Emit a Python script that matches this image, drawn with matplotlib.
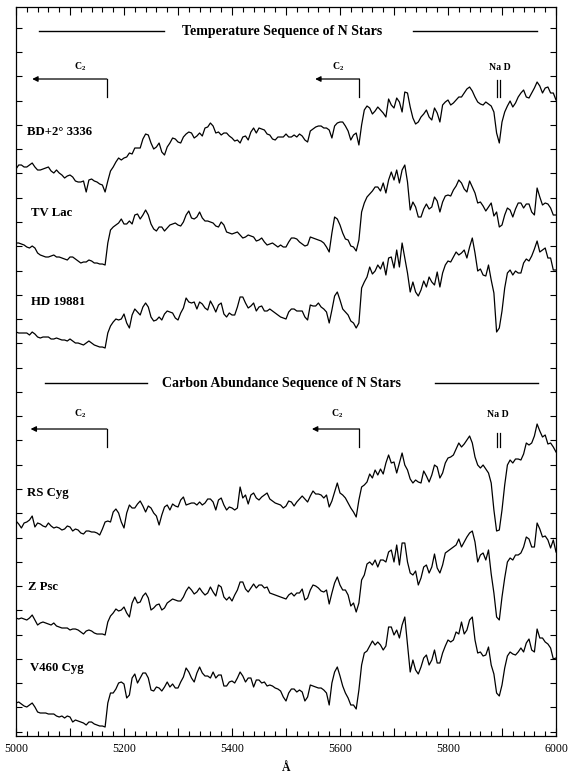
# === IMPORTS ===
import matplotlib.pyplot as plt
import numpy as np


# === FONTS ===
plt.rcParams['font.family'] = ['Liberation Serif', 'DejaVu Serif']
plt.rcParams['mathtext.fontset'] = 'custom'
plt.rcParams['mathtext.rm'] = 'Liberation Serif'
plt.rcParams['mathtext.bf'] = 'Liberation Serif:bold'


# === DATA (flux in arbitrary units, each spectrum already offset) ===
wavelength = np.arange(5000, 6001, 5)

bd_3336 = [
    567, 571, 571, 569, 569, 571, 573, 569, 566, 566, 567, 568, 569, 565, 563, 566, 563, 561, 558, 560,
    561, 559, 555, 554, 554, 555, 544, 556, 557, 555, 554, 552, 551, 544, 555, 565, 569, 574, 578, 576,
    578, 579, 583, 582, 588, 588, 588, 597, 602, 601, 593, 587, 589, 593, 584, 581, 589, 593, 598, 597,
    594, 593, 599, 602, 604, 603, 598, 600, 603, 600, 608, 609, 613, 610, 603, 604, 601, 603, 603, 600,
    598, 595, 596, 593, 599, 600, 596, 604, 608, 603, 608, 607, 606, 602, 601, 597, 596, 599, 599, 599,
    602, 599, 599, 601, 599, 602, 600, 596, 594, 605, 607, 609, 610, 610, 608, 608, 606, 598, 610, 613,
    614, 614, 610, 605, 596, 601, 603, 591, 611, 626, 630, 628, 622, 625, 629, 626, 623, 619, 637, 631,
    628, 638, 634, 624, 644, 643, 629, 618, 612, 614, 619, 622, 626, 619, 616, 628, 623, 614, 631, 634,
    636, 631, 633, 636, 639, 639, 643, 647, 649, 645, 639, 634, 632, 631, 634, 632, 630, 624, 603, 593,
    614, 624, 630, 635, 629, 633, 639, 643, 646, 639, 638, 643, 648, 654, 650, 643, 648, 649, 643, 643,
    636,
]

tv_lac = [
    493, 493, 492, 491, 489, 488, 490, 488, 483, 481, 480, 479, 479, 480, 481, 479, 479, 478, 477, 476,
    479, 479, 477, 475, 473, 474, 474, 476, 475, 473, 473, 472, 472, 471, 493, 506, 509, 511, 513, 517,
    512, 512, 515, 512, 521, 522, 517, 521, 526, 521, 512, 507, 505, 509, 509, 505, 508, 511, 512, 513,
    511, 510, 514, 521, 525, 518, 517, 519, 524, 518, 515, 515, 514, 513, 510, 509, 514, 511, 504, 503,
    502, 503, 504, 501, 498, 499, 501, 500, 499, 495, 496, 498, 494, 491, 492, 493, 491, 489, 491, 489,
    489, 494, 498, 498, 497, 494, 492, 490, 491, 499, 498, 497, 496, 495, 493, 489, 484, 503, 519, 517,
    511, 503, 497, 496, 490, 489, 485, 496, 524, 533, 539, 542, 545, 549, 549, 545, 553, 543, 556, 564,
    556, 566, 553, 566, 571, 554, 526, 534, 529, 519, 519, 527, 532, 527, 529, 539, 535, 524, 534, 540,
    541, 540, 546, 550, 556, 553, 547, 544, 555, 549, 543, 533, 534, 530, 525, 529, 533, 520, 524, 509,
    511, 521, 528, 526, 519, 527, 533, 533, 528, 532, 532, 524, 521, 548, 539, 531, 533, 532, 528, 521,
    521,
]

hd_19881 = [
    404, 403, 403, 403, 403, 401, 404, 402, 399, 398, 399, 399, 399, 397, 397, 398, 397, 396, 396, 395,
    397, 395, 393, 393, 392, 391, 393, 395, 393, 391, 390, 389, 389, 388, 403, 410, 414, 417, 416, 417,
    422, 413, 408, 421, 427, 424, 421, 429, 433, 429, 419, 415, 416, 419, 416, 422, 425, 424, 423, 418,
    416, 423, 428, 438, 434, 433, 434, 427, 434, 432, 428, 426, 435, 430, 424, 431, 433, 422, 419, 423,
    421, 421, 429, 439, 439, 433, 428, 430, 433, 425, 429, 430, 425, 425, 427, 425, 423, 421, 419, 418,
    417, 424, 427, 427, 425, 425, 425, 419, 416, 431, 430, 430, 433, 429, 427, 424, 413, 426, 440, 444,
    436, 427, 424, 421, 415, 413, 408, 413, 448, 454, 459, 469, 462, 465, 471, 467, 474, 461, 478, 479,
    468, 486, 469, 493, 478, 463, 444, 454, 444, 440, 446, 455, 449, 459, 454, 451, 464, 449, 463, 471,
    475, 474, 479, 484, 481, 483, 486, 478, 489, 498, 483, 465, 467, 461, 460, 471, 456, 443, 404, 408,
    425, 448, 463, 466, 461, 465, 463, 463, 473, 477, 475, 480, 487, 495, 484, 486, 488, 478, 478, 466,
    466,
]

rs_cyg = [
    215, 212, 208, 213, 214, 216, 220, 209, 213, 212, 210, 209, 213, 210, 208, 209, 208, 206, 207, 210,
    209, 205, 207, 206, 203, 202, 205, 205, 204, 204, 203, 201, 207, 214, 215, 214, 224, 227, 223, 214,
    208, 223, 231, 228, 228, 232, 235, 230, 224, 230, 228, 223, 220, 211, 221, 229, 231, 226, 232, 230,
    229, 236, 239, 231, 232, 233, 233, 231, 234, 231, 233, 237, 237, 234, 226, 236, 238, 231, 226, 229,
    228, 226, 228, 249, 238, 241, 232, 241, 243, 238, 236, 239, 241, 243, 237, 235, 233, 232, 231, 228,
    230, 235, 234, 230, 234, 237, 240, 237, 234, 240, 245, 242, 242, 241, 238, 241, 229, 235, 244, 253,
    243, 241, 238, 233, 228, 224, 219, 236, 249, 251, 254, 262, 258, 266, 261, 267, 262, 273, 281, 273,
    274, 263, 273, 283, 271, 266, 257, 253, 256, 254, 253, 265, 260, 254, 261, 271, 269, 258, 263, 273,
    278, 279, 281, 287, 293, 289, 292, 296, 300, 293, 279, 271, 268, 271, 267, 263, 253, 226, 205, 206,
    226, 251, 271, 276, 273, 277, 277, 276, 282, 293, 291, 293, 300, 312, 305, 299, 301, 292, 293, 289,
    284,
]

z_psc = [
    118, 117, 118, 117, 116, 118, 121, 116, 111, 113, 114, 113, 112, 111, 113, 110, 109, 108, 108, 108,
    106, 107, 107, 106, 104, 102, 105, 106, 105, 103, 102, 102, 102, 101, 114, 120, 123, 127, 125, 126,
    129, 123, 119, 133, 139, 133, 134, 140, 143, 138, 126, 128, 131, 132, 126, 128, 133, 135, 137, 136,
    135, 135, 139, 145, 149, 146, 142, 144, 148, 144, 141, 143, 149, 144, 140, 151, 149, 139, 136, 139,
    135, 141, 146, 154, 154, 147, 144, 148, 152, 148, 151, 151, 148, 149, 143, 142, 141, 140, 139, 138,
    137, 141, 143, 140, 143, 143, 147, 136, 138, 146, 151, 150, 148, 145, 144, 146, 132, 143, 153, 159,
    151, 146, 146, 141, 130, 133, 124, 133, 156, 161, 172, 174, 171, 176, 169, 176, 176, 174, 184, 186,
    174, 191, 171, 193, 193, 174, 163, 161, 165, 151, 158, 169, 171, 163, 169, 182, 168, 163, 171, 183,
    185, 187, 189, 191, 197, 189, 194, 199, 203, 205, 194, 174, 181, 183, 176, 186, 162, 143, 119, 116,
    139, 158, 174, 178, 176, 181, 181, 183, 189, 199, 197, 189, 189, 213, 207, 199, 200, 196, 188, 196,
    184,
]

v460_cyg = [
    33, 34, 32, 30, 29, 31, 33, 29, 24, 23, 23, 23, 22, 22, 22, 20, 19, 20, 18, 20,
    19, 14, 16, 15, 14, 13, 11, 14, 14, 12, 11, 10, 10, 9, 33, 43, 43, 47, 53, 54,
    52, 38, 41, 58, 62, 53, 58, 63, 63, 58, 46, 45, 49, 48, 45, 49, 54, 49, 52, 48,
    48, 54, 59, 68, 64, 58, 54, 63, 69, 63, 60, 60, 58, 64, 58, 61, 61, 50, 50, 54,
    55, 53, 58, 64, 60, 54, 58, 58, 49, 56, 56, 53, 54, 50, 51, 50, 48, 47, 45, 39,
    35, 43, 47, 47, 44, 46, 44, 35, 39, 51, 50, 49, 48, 48, 46, 43, 31, 53, 64, 69,
    60, 50, 43, 38, 31, 31, 27, 46, 71, 83, 85, 90, 95, 91, 94, 91, 86, 90, 109, 109,
    101, 106, 98, 111, 119, 91, 64, 76, 66, 62, 69, 78, 81, 71, 76, 86, 73, 73, 83, 90,
    96, 94, 96, 104, 102, 114, 102, 106, 116, 119, 96, 83, 84, 80, 81, 89, 71, 62, 43, 40,
    51, 68, 80, 84, 82, 81, 84, 88, 84, 93, 97, 86, 84, 107, 98, 98, 94, 92, 88, 77,
    78,
]

star_names = ["BD+2° 3336", "TV Lac", "HD 19881", "RS Cyg", "Z Psc", "V460 Cyg"]
spectra = [bd_3336, tv_lac, hd_19881, rs_cyg, z_psc, v460_cyg]

group_titles = ["Temperature Sequence of N Stars", "Carbon Abundance Sequence of N Stars"]
c2_heads = [5168, 5636]
na_d_lines = [5890, 5896]


# === LAYOUT ===
label_pos = [(5020, 604), (5027, 523), (5027, 434), (5021, 243), (5023, 149), (5026, 68)]

groups = [
    dict(title_y=705, lines=[(5043, 5274), (5735, 5965)], arrow_y=657, drop=18,
         text_y=669, tips=[5030, 5554], c2_x=[5118, 5596], nad_x=5896, nad_y=(639, 656)),
    dict(title_y=353, lines=[(5054, 5243), (5776, 5967)], arrow_y=307, drop=18,
         text_y=322, tips=[5027, 5548], c2_x=[5118, 5594], nad_x=5893, nad_y=(289, 303)),
]


# === FIGURE ===
fig = plt.figure(figsize=(5.7, 7.77), dpi=100)
ax = fig.add_axes([0.02807, 0.05315, 0.94737, 0.93745])

for flux in spectra:
    ax.plot(wavelength, flux, color='black', lw=0.9)

for name, (lx, ly) in zip(star_names, label_pos):
    ax.text(lx, ly, name, fontsize=9.2, fontweight='bold', ha='left', va='center')

for title, g in zip(group_titles, groups):
    ax.text(5492, g['title_y'], title, fontsize=10, fontweight='bold', ha='center', va='center')
    for x0, x1 in g['lines']:
        ax.plot([x0, x1], [g['title_y'], g['title_y']], color='black', lw=1)

    # C2 band heads with leftward arrows
    for head, tip, cx in zip(c2_heads, g['tips'], g['c2_x']):
        ax.plot([head, head], [g['arrow_y'] - g['drop'], g['arrow_y']], color='black', lw=0.9)
        ax.annotate('', xy=(tip, g['arrow_y']), xytext=(head, g['arrow_y']),
                    arrowprops=dict(arrowstyle='-|>', color='black', lw=0.9,
                                    mutation_scale=8, shrinkA=0, shrinkB=0))
        ax.text(cx, g['text_y'], r'C$_\mathbf{2}$', fontsize=7, fontweight='bold',
                ha='center', va='center')

    # Na D doublet
    for nx in na_d_lines:
        ax.plot([nx, nx], g['nad_y'], color='black', lw=0.9)
    ax.text(g['nad_x'], g['text_y'], 'Na D', fontsize=7, fontweight='bold', ha='center', va='center')


# === AXES ===
ax.set_xlim(5000, 6000)
ax.set_ylim(0.3, 728.7)

major_x = list(range(5000, 6001, 100))
ax.set_xticks(major_x)
ax.set_xticklabels([str(v) if v % 200 == 0 else '' for v in major_x])
ax.set_xticks(list(range(5000, 6001, 20)), minor=True)
ax.set_yticks(np.arange(4.3, 729, 24.27))
ax.set_yticklabels([])

ax.tick_params(which='both', direction='in', top=True, right=True, width=0.8)
ax.tick_params(axis='x', which='major', length=6, labelsize=8.5, pad=5)
ax.tick_params(axis='x', which='minor', length=3.5)
ax.tick_params(axis='y', which='major', length=4)

for spine in ax.spines.values():
    spine.set_linewidth(0.9)

ax.set_xlabel('Å', fontsize=8.5, fontweight='bold', labelpad=5)

fig.savefig('out.png', dpi=100)
